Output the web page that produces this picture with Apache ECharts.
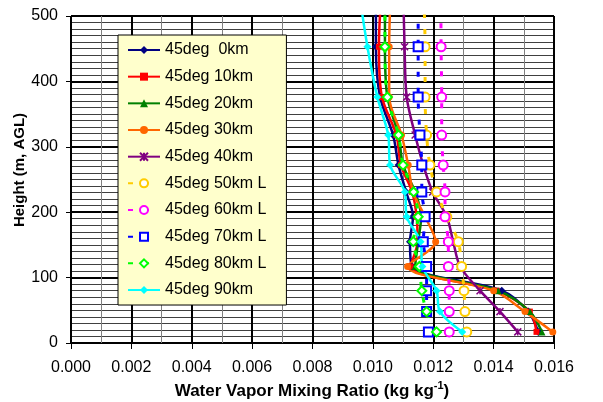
<!DOCTYPE html>
<html><head><meta charset="utf-8">
<script src="https://cdn.jsdelivr.net/npm/echarts@6/dist/echarts.min.js"></script>
<style>html,body{margin:0;padding:0;background:#fff}#c{width:603px;height:402px}</style>
</head><body><div id="c"></div>
<script>
// Heights (m AGL) of the profile levels
const heights = [17, 48, 80, 117, 155, 193, 231, 272, 318, 376, 453, 550];
const seriesNames = ['45deg  0km','45deg 10km','45deg 20km','45deg 30km','45deg 40km','45deg 50km L','45deg 60km L','45deg 70km L','45deg 80km L','45deg 90km'];
const v0km  = [0.01548, 0.01515, 0.01427, 0.01130, 0.01123, 0.01133, 0.01110, 0.01085, 0.01067, 0.01024, 0.01010, 0.01010];
const v10km = [0.01542, 0.01520, 0.01410, 0.01125, 0.01148, 0.01145, 0.01130, 0.01093, 0.01078, 0.01030, 0.01020, 0.01030];
const v20km = [0.01560, 0.01520, 0.01415, 0.01140, 0.01150, 0.01160, 0.01140, 0.01100, 0.01085, 0.01048, 0.01040, 0.01040];
const v30km = [0.01596, 0.01504, 0.01400, 0.01115, 0.01208, 0.01173, 0.01133, 0.01117, 0.01095, 0.01054, 0.01054, 0.01060];
const v40km = [0.01480, 0.01421, 0.01355, 0.01289, 0.01266, 0.01245, 0.01198, 0.01167, 0.01140, 0.01112, 0.01105, 0.01100];
const v50kmL = [0.01311, 0.01305, 0.01302, 0.01294, 0.01283, 0.01245, 0.01211, 0.01189, 0.01178, 0.01173, 0.01173, 0.01167];
const v60kmL = [0.01253, 0.01253, 0.01253, 0.01250, 0.01250, 0.01239, 0.01239, 0.01233, 0.01228, 0.01228, 0.01226, 0.01225];
const v70kmL = [0.01184, 0.01178, 0.01178, 0.01178, 0.01167, 0.01173, 0.01162, 0.01162, 0.01156, 0.01150, 0.01150, 0.01150];
const v80kmL = [0.01211, 0.01178, 0.01162, 0.01154, 0.01134, 0.01150, 0.01135, 0.01100, 0.01085, 0.01048, 0.01040, 0.01040];
const v90km = [0.01296, 0.01222, 0.01211, 0.01164, 0.01158, 0.01112, 0.01106, 0.01057, 0.01051, 0.01015, 0.00982, 0.00950];
const xTicks = [0, 0.002, 0.004, 0.006, 0.008, 0.010, 0.012, 0.014, 0.016];
const yTicks = [0, 100, 200, 300, 400, 500];

const FONT = 'Liberation Sans, Arial, sans-serif';
const star = 'path://M0 0L10 10M10 0L0 10M5 0L5 10';
const specs = [
  {v: v0km,  c: '#000080', s: 'diamond', z: 8, dash: false},
  {v: v10km, c: '#FF0000', s: 'rect', z: 6, dash: false},
  {v: v20km, c: '#008000', s: 'triangle', z: 7, dash: false},
  {v: v30km, c: '#FF6600', s: 'circle', z: 7, dash: false},
  {v: v40km, c: '#800080', s: star, z: 7, dash: false},
  {v: v50kmL, c: '#FFCC00', s: 'emptyCircle', z: 9, dash: true},
  {v: v60kmL, c: '#FF00FF', s: 'emptyCircle', z: 9, dash: true},
  {v: v70kmL, c: '#0000FF', s: 'emptyRect', z: 9, dash: true},
  {v: v80kmL, c: '#00FF00', s: 'emptyDiamond', z: 9, dash: true},
  {v: v90km, c: '#00FFFF', s: 'diamond', z: 8, dash: false}
];
const series = specs.map((sp, i) => ({
  name: seriesNames[i],
  type: 'line',
  data: heights.map((h, k) => [sp.v[k], h]),
  smooth: 0.3,
  symbol: sp.s,
  symbolSize: sp.z,
  showAllSymbol: true,
  clip: true,
  lineStyle: {color: sp.c, width: sp.dash ? 3 : 2.5, type: sp.dash ? [5, 11] : 'solid'},
  itemStyle: {color: sp.c, borderColor: sp.c, borderWidth: (sp.s.indexOf('empty') === 0 || sp.s === star) ? 1.5 : 0},
  emphasis: {disabled: true}
}));

const chart = echarts.init(document.getElementById('c'), null, {renderer: 'canvas'});
chart.setOption({
  animation: false,
  backgroundColor: '#fff',
  grid: {left: 71, right: 49, top: 16, bottom: 59, containLabel: false, outerBoundsMode: 'none'},
  xAxis: {
    type: 'value', min: xTicks[0], max: xTicks[xTicks.length - 1], interval: 0.002,
    axisLine: {show: true, onZero: false, lineStyle: {color: '#000', width: 1}},
    axisTick: {show: true, length: 6, lineStyle: {color: '#000'}},
    axisLabel: {fontSize: 16, color: '#000', fontFamily: FONT, margin: 17, formatter: v => v.toFixed(3)},
    splitLine: {show: true, lineStyle: {color: '#000', width: 2}},
    minorTick: {show: false, splitNumber: 2},
    minorSplitLine: {show: true, lineStyle: {color: '#808080', width: 1}}
  },
  yAxis: {
    type: 'value', min: yTicks[0], max: yTicks[yTicks.length - 1], interval: 100,
    axisLine: {show: true, onZero: false, lineStyle: {color: '#000', width: 1}},
    axisTick: {show: true, length: 5, lineStyle: {color: '#000'}},
    axisLabel: {fontSize: 16, color: '#000', fontFamily: FONT, margin: 13},
    splitLine: {show: true, lineStyle: {color: '#000', width: 2}},
    minorTick: {show: false, splitNumber: 10},
    minorSplitLine: {show: true, lineStyle: {color: '#404040', width: 1}}
  },
  legend: {
    orient: 'vertical', left: 118, top: 35,
    padding: [6, 20, 6, 9], itemGap: 8.67,
    itemWidth: 32, itemHeight: 10,
    backgroundColor: '#FFFFCC', borderColor: '#000', borderWidth: 1,
    selectedMode: false,
    textStyle: {fontSize: 16, color: '#000', fontFamily: FONT, lineHeight: 18},
    data: seriesNames
  },
  graphic: [
    {type: 'text', x: 312, y: 390, style: {
      text: '{a|Water Vapor Mixing Ratio (kg kg}{s|-1}{a|)}',
      align: 'center', verticalAlign: 'middle',
      rich: {
        a: {fontSize: 17, fontWeight: 'bold', fontFamily: FONT, fill: '#000', lineHeight: 20, verticalAlign: 'bottom'},
        s: {fontSize: 11, fontWeight: 'bold', fontFamily: FONT, fill: '#000', lineHeight: 20, verticalAlign: 'top'}
      }}},
    {type: 'text', x: 20, y: 170, rotation: Math.PI / 2, style: {
      text: 'Height (m, AGL)', align: 'center', verticalAlign: 'middle',
      fontSize: 15, fontWeight: 'bold', fontFamily: FONT, fill: '#000'}}
  ],
  series: series
});
</script></body></html>
